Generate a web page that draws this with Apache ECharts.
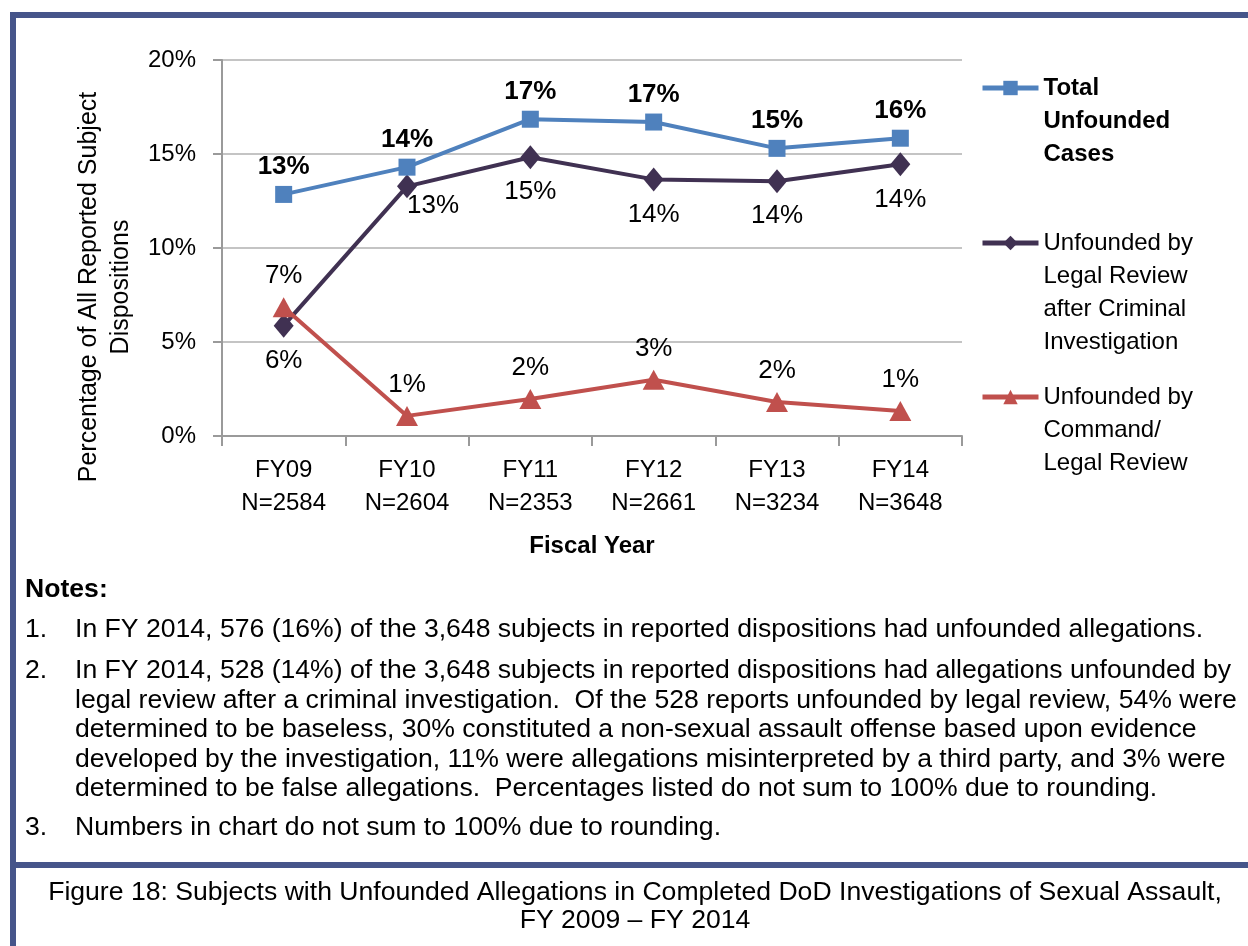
<!DOCTYPE html>
<html>
<head>
    <meta charset="UTF-8">
    <title>Unfounded Allegations</title>
    <script type="text/javascript" src="https://cdn.jsdelivr.net/npm/echarts@6/dist/echarts.min.js"></script>
    <style>
        html, body { margin: 0; padding: 0; background: #fff; }
        #main { width: 1248px; height: 946px; }
    </style>
</head>
<body>
<div id="main"></div>
<script>
    // data (percent of all reported subject dispositions)
    var years = ['FY09', 'FY10', 'FY11', 'FY12', 'FY13', 'FY14'];
    var subjects = ['2584', '2604', '2353', '2661', '3234', '3648'];
    var totalUnfounded = [12.85, 14.3, 16.85, 16.7, 15.3, 15.84];
    var legalReview = [5.87, 13.28, 14.83, 13.65, 13.55, 14.45];
    var commandReview = [6.85, 1.07, 1.97, 2.99, 1.81, 1.33];
    var yTicks = [0, 5, 10, 15, 20];

    var notes = [
        ['1.', ['In FY 2014, 576 (16%) of the 3,648 subjects in reported dispositions had unfounded allegations.']],
        ['2.', ['In FY 2014, 528 (14%) of the 3,648 subjects in reported dispositions had allegations unfounded by',
                'legal review after a criminal investigation.  Of the 528 reports unfounded by legal review, 54% were',
                'determined to be baseless, 30% constituted a non-sexual assault offense based upon evidence',
                'developed by the investigation, 11% were allegations misinterpreted by a third party, and 3% were',
                'determined to be false allegations.  Percentages listed do not sum to 100% due to rounding.']],
        ['3.', ['Numbers in chart do not sum to 100% due to rounding.']]
    ];
    var caption = ['Figure 18: Subjects with Unfounded Allegations in Completed DoD Investigations of Sexual Assault,',
                   'FY 2009 \u2013 FY 2014'];

    var arial = '"Liberation Sans", Arial, sans-serif';
    var frame = '#46558a';

    var pct = function (p) { return Math.round(p.value) + '%'; };

    // notes / caption / frame
    var graphics = [
        {type: 'rect', shape: {x: 10, y: 12, width: 1238, height: 6}, style: {fill: frame}},
        {type: 'rect', shape: {x: 10, y: 12, width: 6, height: 934}, style: {fill: frame}},
        {type: 'rect', shape: {x: 10, y: 862, width: 1238, height: 6}, style: {fill: frame}},
        {type: 'text', x: 25, y: 590, style: {text: 'Notes:', font: 'bold 26.6px ' + arial, fill: '#000', verticalAlign: 'middle'}}
    ];
    var noteY = [630, 671, 828];
    notes.forEach(function (n, i) {
        graphics.push({type: 'text', x: 25, y: noteY[i], style: {text: n[0], font: '26.6px ' + arial, fill: '#000', verticalAlign: 'middle'}});
        n[1].forEach(function (line, j) {
            graphics.push({type: 'text', x: 75, y: noteY[i] + j * 29.5,
                style: {text: line, font: '26.6px ' + arial, fill: '#000', verticalAlign: 'middle'}});
        });
    });
    caption.forEach(function (line, i) {
        graphics.push({type: 'text', x: 635, y: 893 + i * 28, style: {text: line, font: '26.6px ' + arial,
            fill: '#000', align: 'center', verticalAlign: 'middle'}});
    });

    // one legend per series so the icon sits on the first text line
    function legendFor(name, iconY, bold, lines) {
        var blank = new Array(lines).join(' \n');
        return {
            data: [{name: name, textStyle: {fontWeight: bold ? 'bold' : 'normal'}}],
            formatter: function (n) { return blank + n; },
            left: 980, top: iconY - (2 * lines - 1) * 33 / 2, padding: 0,
            itemWidth: 56, itemHeight: 18, itemGap: 0,
            lineStyle: {width: 5},
            selectedMode: false,
            textStyle: {fontFamily: arial, fontSize: 24, lineHeight: 33, color: '#000'}
        };
    }

    var myChart = echarts.init(document.getElementById('main'));
    myChart.setOption({
        backgroundColor: '#fff',
        animation: false,
        graphic: graphics,
        grid: {left: 222, right: 286, top: 60, bottom: 510},
        legend: [
            legendFor('Total\nUnfounded\nCases', 88, true, 3),
            legendFor('Unfounded by\nLegal Review\nafter Criminal\nInvestigation', 243, false, 4),
            legendFor('Unfounded by\nCommand/\nLegal Review', 397, false, 3)
        ],
        xAxis: {
            type: 'category',
            data: years.map(function (y, i) { return y + '\nN=' + subjects[i]; }),
            name: 'Fiscal Year',
            nameLocation: 'middle',
            nameGap: 98,
            nameTextStyle: {fontFamily: arial, fontSize: 24, fontWeight: 'bold', color: '#000'},
            axisLine: {lineStyle: {color: '#9a9a9a', width: 2}},
            axisTick: {show: true, length: 10, lineStyle: {color: '#9a9a9a', width: 2}},
            axisLabel: {fontFamily: arial, fontSize: 24, lineHeight: 33, color: '#000', margin: 18, interval: 0}
        },
        yAxis: {
            type: 'value',
            min: 0, max: 20, interval: 5,
            name: 'Percentage of All Reported Subject\nDispositions',
            nameLocation: 'middle',
            nameRotate: 90,
            nameGap: 58,
            // right padding pushes the rotated title down, as in the original
            nameTextStyle: {fontFamily: arial, fontSize: 25, lineHeight: 32, color: '#000', padding: [0, 78, 0, 0]},
            axisLine: {show: true, lineStyle: {color: '#9a9a9a', width: 2}},
            axisTick: {show: true, length: 9, lineStyle: {color: '#9a9a9a', width: 2}},
            splitLine: {lineStyle: {color: '#c4c4c4', width: 2}},
            axisLabel: {fontFamily: arial, fontSize: 24, color: '#000', margin: 26,
                formatter: function (v) { return yTicks.indexOf(v) >= 0 ? v + '%' : ''; }}
        },
        series: [{
            name: 'Total\nUnfounded\nCases',
            type: 'line',
            data: totalUnfounded,
            symbol: 'rect', symbolSize: 17,
            itemStyle: {color: '#4f81bd'},
            lineStyle: {color: '#4f81bd', width: 4},
            label: {show: true, position: 'top', distance: 6, formatter: pct,
                fontFamily: arial, fontSize: 26, fontWeight: 'bold', color: '#000'},
            z: 3
        }, {
            name: 'Unfounded by\nLegal Review\nafter Criminal\nInvestigation',
            type: 'line',
            data: legalReview.map(function (v, i) {
                // FY10 label sits to the lower right of its point
                return i === 1 ? {value: v, label: {offset: [26, -16]}} : v;
            }),
            symbol: 'diamond', symbolSize: [20, 24],
            itemStyle: {color: '#403152'},
            lineStyle: {color: '#403152', width: 4},
            label: {show: true, position: 'bottom', distance: 10, formatter: pct,
                fontFamily: arial, fontSize: 26, color: '#000'},
            z: 2
        }, {
            name: 'Unfounded by\nCommand/\nLegal Review',
            type: 'line',
            data: commandReview,
            symbol: 'triangle', symbolSize: [22, 20],
            itemStyle: {color: '#c0504d'},
            lineStyle: {color: '#c0504d', width: 4},
            label: {show: true, position: 'top', distance: 8, formatter: pct,
                fontFamily: arial, fontSize: 26, color: '#000'},
            z: 2
        }]
    });
</script>
</body>
</html>
